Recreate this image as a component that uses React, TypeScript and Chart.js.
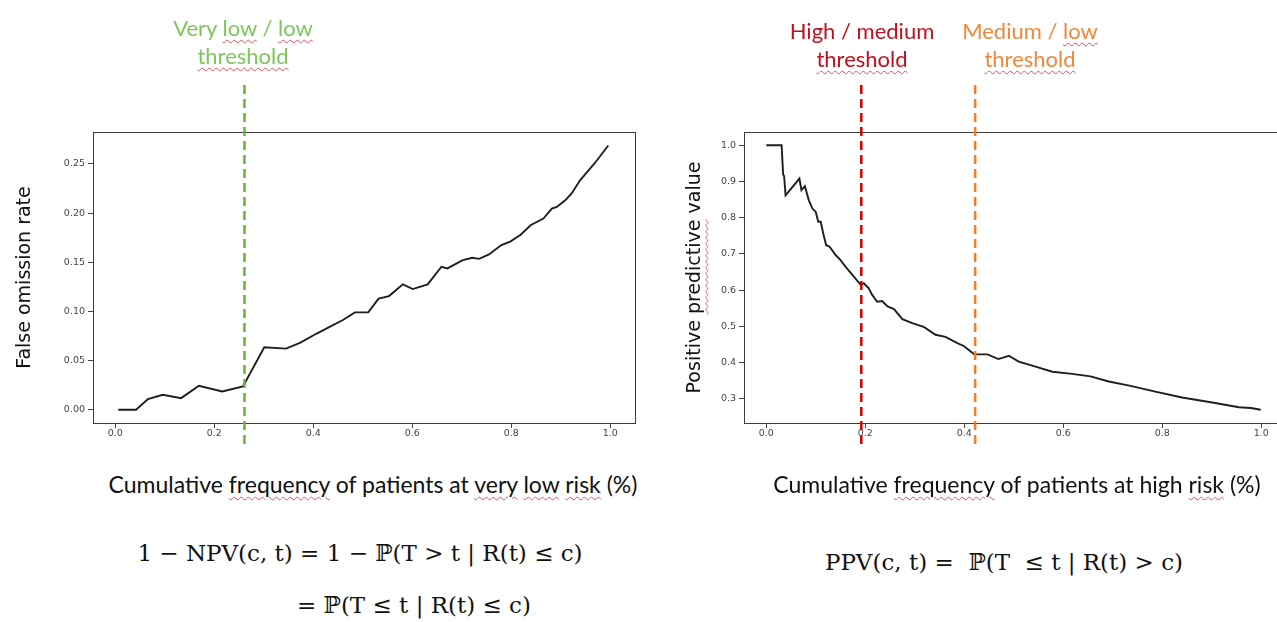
import React, { useEffect, useRef } from 'react';
import { Chart, registerables } from 'chart.js';

Chart.register(...registerables);

// ---------------- data ----------------
// Left panel: false omission rate vs cumulative frequency (very low risk)
const forX = [0.006, 0.042, 0.066, 0.096, 0.133, 0.169, 0.216, 0.258, 0.301, 0.345, 0.373, 0.407, 0.434, 0.46, 0.484, 0.511, 0.532, 0.553, 0.581, 0.601, 0.631, 0.659, 0.671, 0.701, 0.721, 0.735, 0.755, 0.78, 0.798, 0.819, 0.839, 0.865, 0.882, 0.892, 0.909, 0.922, 0.939, 0.969, 0.996];
const forY = [0, 0, 0.0109, 0.0152, 0.0118, 0.0243, 0.0186, 0.0236, 0.0636, 0.0622, 0.068, 0.0775, 0.0845, 0.0913, 0.099, 0.099, 0.113, 0.1156, 0.1275, 0.1227, 0.1275, 0.1454, 0.1437, 0.152, 0.1545, 0.1535, 0.158, 0.1675, 0.171, 0.178, 0.1877, 0.1945, 0.2046, 0.2063, 0.213, 0.22, 0.2334, 0.251, 0.2688];

// Right panel: positive predictive value vs cumulative frequency (high risk)
const ppvX = [0, 0.031, 0.034, 0.036, 0.039, 0.067, 0.071, 0.078, 0.086, 0.093, 0.1, 0.105, 0.11, 0.115, 0.121, 0.128, 0.14, 0.15, 0.16, 0.174, 0.191, 0.197, 0.207, 0.214, 0.224, 0.234, 0.245, 0.258, 0.275, 0.295, 0.319, 0.342, 0.362, 0.386, 0.399, 0.42, 0.447, 0.469, 0.49, 0.51, 0.544, 0.578, 0.618, 0.655, 0.692, 0.736, 0.786, 0.84, 0.901, 0.955, 0.979, 0.999];
const ppvY = [1, 1, 0.92, 0.915, 0.862, 0.908, 0.876, 0.887, 0.848, 0.826, 0.816, 0.789, 0.789, 0.757, 0.724, 0.72, 0.697, 0.683, 0.665, 0.642, 0.614, 0.619, 0.605, 0.587, 0.568, 0.57, 0.555, 0.548, 0.52, 0.509, 0.498, 0.477, 0.471, 0.454, 0.446, 0.423, 0.423, 0.41, 0.419, 0.403, 0.389, 0.375, 0.369, 0.362, 0.348, 0.336, 0.32, 0.304, 0.29, 0.277, 0.275, 0.27];

const xTicks = [0, 0.2, 0.4, 0.6, 0.8, 1.0];
const forTicks = [0, 0.05, 0.1, 0.15, 0.2, 0.25];
const ppvTicks = [0.3, 0.4, 0.5, 0.6, 0.7, 0.8, 0.9, 1.0];

const veryLowLowThreshold = 0.261;
const highMediumThreshold = 0.192;
const mediumLowThreshold = 0.422;

// ---------------- styles ----------------
const TICK_FONT = { family: 'DejaVu Sans', size: 9.5 };
const TITLE_FONT = { family: 'DejaVu Sans', size: 19 };
const GREEN_TEXT = '#7dc75a';
const GREEN_LINE = '#63b53d';
const RED_TEXT = '#c0101e';
const RED_LINE = '#d10000';
const ORANGE_TEXT = '#f0873a';
const ORANGE_LINE = '#f07f2c';
const SQUIGGLE = '#e8505b';

const framePlugin = {
  id: 'frame',
  afterDraw(chart: any) {
    const { ctx, chartArea } = chart;
    const { left, top, right, bottom } = chartArea;
    ctx.save();
    ctx.strokeStyle = '#3c3c3c';
    ctx.lineWidth = 1;
    ctx.strokeRect(Math.round(left) + 0.5, Math.round(top) + 0.5, Math.round(right - left), Math.round(bottom - top));
    ctx.restore();
  },
};

const vlinePlugin = {
  id: 'vlines',
  afterDraw(chart: any, _args: any, opts: any) {
    const { ctx, chartArea } = chart;
    const xs = chart.scales.x;
    (opts.lines || []).forEach((l: any) => {
      const x = xs.getPixelForValue(l.value);
      ctx.save();
      ctx.strokeStyle = l.color;
      ctx.lineWidth = 2.5;
      ctx.setLineDash([9, 5]);
      ctx.beginPath();
      ctx.moveTo(x, chartArea.top - opts.extendTop);
      ctx.lineTo(x, chartArea.bottom + opts.extendBottom);
      ctx.stroke();
      ctx.restore();
    });
  },
};

function drawWavy(ctx: CanvasRenderingContext2D, x0: number, x1: number, y: number) {
  ctx.save();
  ctx.strokeStyle = SQUIGGLE;
  ctx.lineWidth = 1;
  ctx.beginPath();
  for (let x = x0; x <= x1; x += 0.5) {
    const yy = y + Math.sin(((x - x0) / 3) * Math.PI) * 1.1;
    if (x === x0) ctx.moveTo(x, yy);
    else ctx.lineTo(x, yy);
  }
  ctx.stroke();
  ctx.restore();
}

const squigglePlugin = {
  id: 'squiggle',
  afterDraw(chart: any, _args: any, opts: any) {
    if (!opts || !opts.word) return;
    const { ctx, chartArea } = chart;
    const ys = chart.scales.y;
    ctx.save();
    ctx.font = `${TITLE_FONT.size}px "${TITLE_FONT.family}"`;
    const full = ctx.measureText(opts.text).width;
    const pre = ctx.measureText(opts.prefix).width;
    const w = ctx.measureText(opts.word).width;
    const cx = ys.left + (TITLE_FONT.size * 1.2) / 2 + opts.titlePad;
    const cy = (chartArea.top + chartArea.bottom) / 2;
    ctx.translate(cx, cy);
    ctx.rotate(-Math.PI / 2);
    drawWavy(ctx, -full / 2 + pre, -full / 2 + pre + w, TITLE_FONT.size * 0.62);
    ctx.restore();
  },
};

interface PlotProps {
  left: number;
  xs: number[];
  ys: number[];
  yMin: number;
  yMax: number;
  yTicks: number[];
  yDecimals: number;
  yTitle: string;
  yTitlePad: number;
  yWidth: number;
  lines: { value: number; color: string }[];
  squiggle?: { text: string; prefix: string; word: string; titlePad: number };
}

const CANVAS_W = 660;
const CANVAS_H = 400;
const CANVAS_TOP = 70;
const AREA_TOP = 62;
const AREA_W = 542;
const X_AXIS_H = 47;

function Plot(p: PlotProps) {
  const ref = useRef<HTMLCanvasElement>(null);
  useEffect(() => {
    if (!ref.current) return;
    const chart = new Chart(ref.current, {
      type: 'line',
      data: {
        datasets: [
          {
            data: p.xs.map((x, i) => ({ x, y: p.ys[i] })),
            borderColor: '#1e1e1e',
            borderWidth: 1.9,
            pointRadius: 0,
            tension: 0,
            fill: false,
          },
        ],
      },
      options: {
        animation: false,
        responsive: false,
        devicePixelRatio: 1,
        layout: { padding: { top: AREA_TOP, left: 0, bottom: 0, right: CANVAS_W - p.yWidth - AREA_W } },
        plugins: {
          legend: { display: false },
          tooltip: { enabled: false },
          vlines: { lines: p.lines, extendTop: 47, extendBottom: 24 },
          squiggle: p.squiggle || {},
        } as any,
        scales: {
          x: {
            type: 'linear',
            min: -0.045,
            max: 1.05,
            afterBuildTicks: (s: any) => {
              s.ticks = xTicks.map((v) => ({ value: v }));
            },
            afterFit: (s: any) => {
              s.height = X_AXIS_H;
            },
            ticks: {
              font: TICK_FONT,
              color: '#444',
              padding: 0,
              autoSkip: false,
              maxRotation: 0,
              callback: (v: any) => Number(v).toFixed(1),
            },
            grid: { drawOnChartArea: false, tickLength: 5, color: '#444' },
            border: { display: false },
          },
          y: {
            type: 'linear',
            min: p.yMin,
            max: p.yMax,
            afterBuildTicks: (s: any) => {
              s.ticks = p.yTicks.map((v) => ({ value: v }));
            },
            afterFit: (s: any) => {
              s.width = p.yWidth;
            },
            ticks: {
              font: TICK_FONT,
              color: '#444',
              padding: 3,
              autoSkip: false,
              callback: (v: any) => Number(v).toFixed(p.yDecimals),
            },
            grid: { drawOnChartArea: false, tickLength: 5, color: '#444' },
            border: { display: false },
            title: {
              display: true,
              text: p.yTitle,
              font: TITLE_FONT,
              color: '#111',
              padding: { top: p.yTitlePad, bottom: 0 },
            },
          },
        },
      },
      plugins: [framePlugin, vlinePlugin, squigglePlugin],
    } as any);
    return () => chart.destroy();
  }, []);
  return (
    <canvas
      ref={ref}
      width={CANVAS_W}
      height={CANVAS_H}
      style={{ position: 'absolute', left: p.left, top: CANVAS_TOP, width: CANVAS_W, height: CANVAS_H }}
    />
  );
}

const wavyStyle: React.CSSProperties = {
  textDecorationLine: 'underline',
  textDecorationStyle: 'wavy',
  textDecorationColor: SQUIGGLE,
  textDecorationThickness: '1px',
  textUnderlineOffset: '3px',
};

const W = ({ children }: { children: React.ReactNode }) => <span style={wavyStyle}>{children}</span>;

function Label(props: { cx: number; top: number; color: string; children: React.ReactNode }) {
  return (
    <div
      style={{
        position: 'absolute',
        left: props.cx - 150,
        width: 300,
        top: props.top,
        textAlign: 'center',
        fontFamily: 'Lato, "Open Sans", sans-serif',
        fontSize: 22,
        lineHeight: '28px',
        color: props.color,
        whiteSpace: 'nowrap',
      }}
    >
      {props.children}
    </div>
  );
}

function TextAt(props: { cx: number; top: number; size: number; family: string; lh: number; children: React.ReactNode }) {
  return (
    <div
      style={{
        position: 'absolute',
        left: props.cx - 320,
        width: 640,
        top: props.top,
        textAlign: 'center',
        fontFamily: props.family,
        fontSize: props.size,
        lineHeight: `${props.lh}px`,
        color: '#111',
        whiteSpace: 'pre',
      }}
    >
      {props.children}
    </div>
  );
}

const SANS = 'Lato, "Open Sans", sans-serif';
const SERIF = '"DejaVu Serif", "Liberation Serif", serif';

export default function App() {
  return (
    <div style={{ position: 'absolute', left: 0, top: 0, width: 1277, height: 622, overflow: 'hidden', background: '#fff' }}>
      <Plot
        left={0}
        xs={forX}
        ys={forY}
        yMin={-0.0135}
        yMax={0.2825}
        yTicks={forTicks}
        yDecimals={2}
        yTitle="False omission rate"
        yTitlePad={13.6}
        yWidth={93}
        lines={[{ value: veryLowLowThreshold, color: GREEN_LINE }]}
      />
      <Plot
        left={650}
        xs={ppvX}
        ys={ppvY}
        yMin={0.2335}
        yMax={1.0365}
        yTicks={ppvTicks}
        yDecimals={1}
        yTitle="Positive predictive value"
        yTitlePad={33.6}
        yWidth={94}
        lines={[
          { value: highMediumThreshold, color: RED_LINE },
          { value: mediumLowThreshold, color: ORANGE_LINE },
        ]}
        squiggle={{ text: 'Positive predictive value', prefix: 'Positive ', word: 'predictive', titlePad: 33.6 }}
      />

      <Label cx={243} top={13.5} color={GREEN_TEXT}>
        Very <W>low</W> / <W>low</W>
        <br />
        <W>threshold</W>
      </Label>
      <Label cx={862} top={17} color={RED_TEXT}>
        High / medium
        <br />
        <W>threshold</W>
      </Label>
      <Label cx={1030} top={17} color={ORANGE_TEXT}>
        Medium / <W>low</W>
        <br />
        <W>threshold</W>
      </Label>

      <TextAt cx={373} top={470} size={23} family={SANS} lh={28}>
        Cumulative <W>frequency</W> of patients at <W>very</W> <W>low</W> <W>risk</W> (%)
      </TextAt>
      <TextAt cx={1017} top={470} size={23} family={SANS} lh={28}>
        Cumulative <W>frequency</W> of patients at high <W>risk</W> (%)
      </TextAt>

      <TextAt cx={360} top={538} size={23} family={SERIF} lh={30}>
        {'1 − NPV(c, t) = 1 − ℙ(T > t | R(t) ≤ c)'}
      </TextAt>
      <TextAt cx={414} top={590} size={23} family={SERIF} lh={30}>
        {'= ℙ(T ≤ t | R(t) ≤ c)'}
      </TextAt>
      <TextAt cx={1004} top={547} size={23} family={SERIF} lh={30}>
        {'PPV(c, t) =  ℙ(T  ≤ t | R(t) > c)'}
      </TextAt>
    </div>
  );
}
